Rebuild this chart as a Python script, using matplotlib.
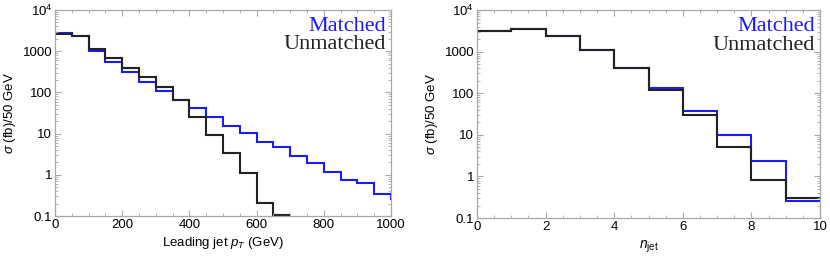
import matplotlib
matplotlib.use("Agg")
import matplotlib.pyplot as plt
from matplotlib.ticker import MultipleLocator, LogLocator, FixedLocator, NullFormatter
import numpy as np

plt.rcParams['font.family'] = ['Liberation Sans', 'DejaVu Sans']
plt.rcParams['mathtext.fontset'] = 'custom'
plt.rcParams['mathtext.rm'] = 'Liberation Sans'
plt.rcParams['mathtext.it'] = 'Liberation Sans:italic'

# leading jet pT, bins of 50 GeV
pt_edges_matched = np.arange(0, 1051, 50)
pt_matched = [2710, 2370, 1020, 553, 305, 178, 110, 65, 42, 25,
              15, 10.4, 6.4, 4.7, 2.9, 1.9, 1.15, 0.76, 0.62, 0.34, 0.26]
pt_edges_unmatched = np.arange(0, 701, 50)
pt_unmatched = [2610, 2290, 1150, 680, 395, 240, 134, 66, 26, 9.1,
                3.4, 1.13, 0.21, 0.107]

# jet multiplicity
nj_edges = np.arange(0, 11, 1)
nj_matched = [3130, 3500, 2380, 1100, 413, 134, 38, 10, 2.33, 0.26]
nj_unmatched = [3050, 3500, 2330, 1100, 400, 122, 30, 5.2, 0.83, 0.31]

blue = '#1a1aff'
black = '#222222'
frame = '#a8a8a8'

fig = plt.figure(figsize=(8.3, 2.56), dpi=100)
ax1 = fig.add_axes([0.0663, 0.156, 0.4048, 0.805])
ax2 = fig.add_axes([0.5747, 0.148, 0.4133, 0.813])


def style(ax, xmax, xmajor, xminor):
    ax.set_yscale('log')
    ax.set_ylim(0.1, 1e4)
    ax.set_xlim(0, xmax)
    ax.xaxis.set_major_locator(MultipleLocator(xmajor))
    ax.xaxis.set_minor_locator(MultipleLocator(xminor))
    ax.yaxis.set_major_locator(FixedLocator([0.1, 1, 10, 100, 1000, 1e4]))
    ax.yaxis.set_minor_locator(LogLocator(base=10, subs=np.arange(2, 10)))
    ax.yaxis.set_minor_formatter(NullFormatter())
    ax.set_yticklabels(['0.1', '1', '10', '100', '1000', '$10^4$'])
    for s in ax.spines.values():
        s.set_color(frame)
        s.set_linewidth(0.9)
    ax.tick_params(which='both', direction='in', top=True, right=True,
                   color=frame, labelsize=9.5, labelcolor='black', pad=2)
    ax.tick_params(which='major', length=4, width=0.8)
    ax.tick_params(which='minor', length=2, width=0.6)
    ax.set_ylabel(r'$\sigma$ (fb)/50 GeV', fontsize=9.5, labelpad=3)
    ax.text(0.985, 0.898, 'Matched', transform=ax.transAxes, ha='right',
            va='baseline', color=blue, fontsize=16, family='Liberation Serif')
    ax.text(0.985, 0.81, 'Unmatched', transform=ax.transAxes, ha='right',
            va='baseline', color=black, fontsize=16, family='Liberation Serif')


ax1.stairs(pt_matched, pt_edges_matched, baseline=None, color=blue, lw=1.5)
ax1.stairs(pt_unmatched, pt_edges_unmatched, baseline=None, color=black, lw=1.5)
style(ax1, 1000, 200, 50)
ax1.set_xlabel(r'Leading jet $p_T$ (GeV)', fontsize=9.5, labelpad=3)

ax2.stairs(nj_matched, nj_edges, baseline=None, color=blue, lw=1.5)
ax2.stairs(nj_unmatched, nj_edges, baseline=None, color=black, lw=1.5)
style(ax2, 10, 2, 0.5)
ax2.set_xlabel(r'$n_{\mathrm{jet}}$', fontsize=10, labelpad=4)

fig.savefig('out.png', dpi=100)
